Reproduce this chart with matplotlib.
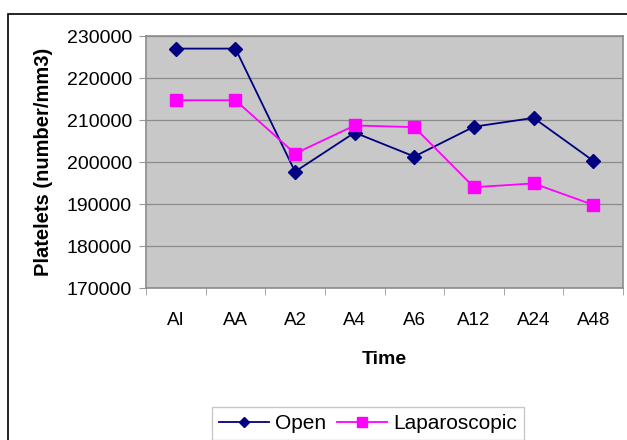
import matplotlib
matplotlib.use("Agg")
import matplotlib.pyplot as plt
import numpy as np
from matplotlib.patches import Rectangle

plt.rcParams["font.family"] = ["Liberation Sans", "DejaVu Sans"]

# Values
TIMES = ["AI", "AA", "A2", "A4", "A6", "A12", "A24", "A48"]
OPEN = [227000, 227000, 197700, 207000, 201300, 208400, 210500, 200300]
LAPAROSCOPIC = [214700, 214700, 202000, 208700, 208300, 194000, 194900, 189800]
Y_TICKS = [170000, 180000, 190000, 200000, 210000, 220000, 230000]

fig = plt.figure(figsize=(6.27, 4.4), dpi=100)
ax = fig.add_axes([146 / 627, 1 - 288 / 440, (623 - 146) / 627, (288 - 36) / 440])

# outer chart border (cut off on right/bottom like the reference)
fig.patches.append(Rectangle((8 / 627, -0.1), 1.2, 1 - 14 / 440 + 0.1,
                             transform=fig.transFigure, fill=False,
                             edgecolor="black", linewidth=1.2))

x = np.arange(len(TIMES))
ax.set_facecolor("#c8c8c8")
ax.plot(x, OPEN, color="#000080", marker="D", markersize=7, linewidth=1.3,
        label="Open", zorder=3)
ax.plot(x, LAPAROSCOPIC, color="#ff00ff", marker="s", markersize=9, linewidth=1.3,
        label="Laparoscopic", zorder=3)

ax.set_xlim(-0.5, len(TIMES) - 0.5)
ax.set_ylim(170000, 230000)
ax.set_yticks(Y_TICKS)
ax.set_yticklabels([str(v) for v in Y_TICKS], fontsize=14)
ax.set_xticks(x)
ax.set_xticklabels(TIMES, fontsize=13.5)
ax.set_xticks(np.arange(len(TIMES) + 1) - 0.5, minor=True)
ax.tick_params(axis="x", which="major", length=0, pad=17)
ax.tick_params(axis="x", which="minor", length=5, color="#999999", direction="out")
ax.tick_params(axis="y", length=5, color="#999999", direction="out", pad=5)
ax.grid(axis="y", color="#8c8c8c", linewidth=0.9)
ax.set_axisbelow(True)
for side in ax.spines.values():
    side.set_color("#8c8c8c")
    side.set_linewidth(1.2)

ax.set_xlabel("Time", fontsize=14, fontweight="bold", labelpad=16)
ax.set_ylabel("Platelets (number/mm3)", fontsize=14.5, fontweight="bold", labelpad=10)

ax.legend(loc="upper center", bbox_to_anchor=(0.465, -0.43), ncol=2, fontsize=15,
          frameon=True, fancybox=False, edgecolor="#bbbbbb", handlelength=2.4,
          handletextpad=0.3, columnspacing=0.5, borderpad=0.35, markerscale=0.8)

fig.savefig("out.png", dpi=100)
